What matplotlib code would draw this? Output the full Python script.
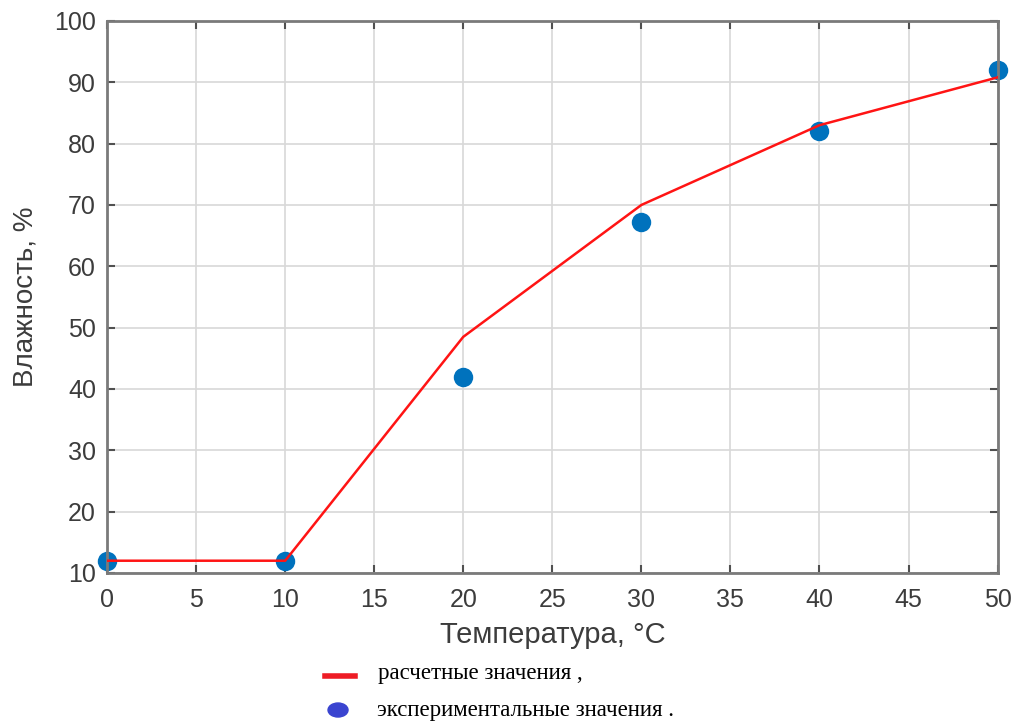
import numpy as np
import matplotlib.pyplot as plt
from matplotlib.lines import Line2D
from matplotlib.patches import Ellipse

plt.rcParams['font.family'] = ['Liberation Sans', 'DejaVu Sans']

# data
temp_calc = [0, 10, 20, 30, 40, 50]          # temperature [C]
hum_calc  = [12, 12, 48.5, 70, 83, 90.8]     # calculated humidity [%]
temp_exp  = [0, 10, 20, 30, 40, 50]
hum_exp   = [12, 12, 42, 67.2, 82, 92]       # experimental humidity [%]

xticks = np.arange(0, 51, 5)
yticks = np.arange(10, 101, 10)
labels = ['расчетные значения ,', 'экспериментальные значения .']

fig = plt.figure(figsize=(10.2, 7.22), dpi=100)
ax = fig.add_axes([0.105, 0.2064, 0.873, 0.7646])

ax.plot(temp_calc, hum_calc, color='#ff1414', linewidth=1.8, zorder=3)
ax.plot(temp_exp, hum_exp, 'o', color='#0072bd', markersize=14,
        markeredgewidth=0, zorder=2, clip_on=False)

ax.set_xlim(0, 50)
ax.set_ylim(10, 100)
ax.set_xticks(xticks)
ax.set_yticks(yticks)
ax.grid(True, color='#d8d8d8', linewidth=1.2)
ax.set_axisbelow(True)
ax.tick_params(direction='in', top=True, right=True, length=6, width=1.5,
               color='#505050', labelsize=18, labelcolor='#3c3c3c', pad=8)
ax.tick_params(axis='x', pad=11)
for sp in ax.spines.values():
    sp.set_color('#7a7a7a')
    sp.set_linewidth(2)

ax.set_xlabel('Температура, °C', fontsize=21, color='#3c3c3c', labelpad=6)
ax.set_ylabel('Влажность, %', fontsize=20, color='#3c3c3c', labelpad=11)

# legend below the axes, serif like the original
fig.add_artist(Line2D([0.3186, 0.348], [0.0637, 0.0637], color='#ee1c25',
                      linewidth=4, transform=fig.transFigure))
fig.add_artist(Ellipse((0.3314, 0.0166), 0.0196, 0.0194, color='#3a44d0',
                       transform=fig.transFigure))
fig.text(0.3706, 0.0665, labels[0], family='Liberation Serif', fontsize=16.5,
         va='center', ha='left')
fig.text(0.3696, 0.0166, labels[1], family='Liberation Serif', fontsize=16.5,
         va='center', ha='left')

fig.savefig('out.png', dpi=100)
